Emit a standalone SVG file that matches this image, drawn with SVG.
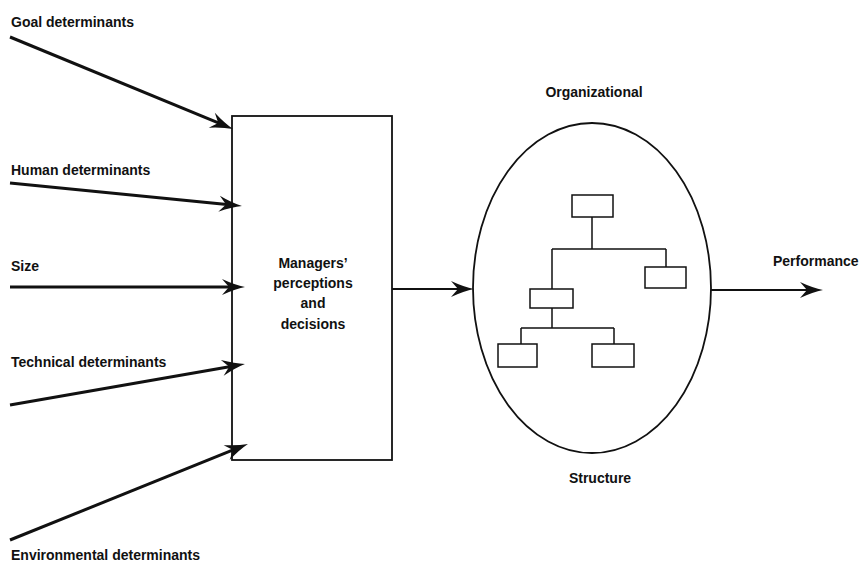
<svg xmlns="http://www.w3.org/2000/svg" width="864" height="565" viewBox="0 0 864 565">
  <style>
    .lbl { font-family: "Liberation Sans", Arial, sans-serif; font-weight: bold; font-size: 14px; fill: #111; }
    .mid { text-anchor: middle; }
    .in { stroke: #111; stroke-width: 3; fill: none; marker-end: url(#barb); }
    .out { stroke: #111; stroke-width: 2; fill: none; marker-end: url(#barb); }
    .frame { stroke: #111; stroke-width: 1.8; fill: #fff; }
    .org { stroke: #111; stroke-width: 1.5; fill: #fff; }
    .tie { stroke: #111; stroke-width: 1.5; fill: none; }
  </style>
  <defs>
    <!-- barbed arrowhead; its point sits 10px past the end of the line -->
    <marker id="barb" markerUnits="userSpaceOnUse" viewBox="-16 -9 28 18" refX="0" refY="0" markerWidth="28" markerHeight="18" orient="auto" overflow="visible">
      <path d="M10,0 Q0,-2 -13,-8 L-6,0 L-13,8 Q0,2 10,0 Z" fill="#111"/>
    </marker>
  </defs>

  <rect width="864" height="565" fill="#fff"/>

  <!-- determinant labels -->
  <g id="goal"><text class="lbl" x="11" y="27">Goal determinants</text></g>
  <g id="human"><text class="lbl" x="11" y="175">Human determinants</text></g>
  <g id="size"><text class="lbl" x="11" y="271">Size</text></g>
  <g id="technical"><text class="lbl" x="11" y="367">Technical determinants</text></g>
  <g id="environmental"><text class="lbl" x="11" y="560">Environmental determinants</text></g>

  <!-- managers box -->
  <g id="managers">
    <rect class="frame" x="232" y="116" width="160" height="344"/>
    <text class="lbl mid" x="313" y="268">Managers’</text>
    <text class="lbl mid" x="313" y="288">perceptions</text>
    <text class="lbl mid" x="313" y="308">and</text>
    <text class="lbl mid" x="313" y="329">decisions</text>
  </g>

  <!-- organizational structure -->
  <g id="structure">
    <text class="lbl mid" x="594" y="97">Organizational</text>
    <ellipse class="frame" cx="592" cy="288" rx="119" ry="165"/>
    <path class="tie" d="M592,217 V249 M552,249 H666 M552,249 V289 M666,249 V267 M552,308 V328 M521,328 H614 M521,328 V344 M614,328 V344"/>
    <rect class="org" x="572" y="195" width="41" height="22"/>
    <rect class="org" x="645" y="267" width="41" height="21"/>
    <rect class="org" x="530" y="289" width="43" height="19"/>
    <rect class="org" x="498" y="344" width="39" height="23"/>
    <rect class="org" x="592" y="344" width="42" height="23"/>
    <text class="lbl mid" x="600" y="483">Structure</text>
  </g>

  <g id="performance"><text class="lbl" x="773" y="266">Performance</text></g>

  <!-- connectors -->
  <g id="connectors">
    <line class="in" x1="10" y1="37" x2="223.8" y2="125.2"/>
    <line class="in" x1="10" y1="183" x2="232" y2="205"/>
    <line class="in" x1="10" y1="287" x2="235" y2="287"/>
    <line class="in" x1="10" y1="405" x2="235.1" y2="365.7"/>
    <line class="in" x1="10" y1="540" x2="238.7" y2="447.7"/>
    <line class="out" x1="392" y1="289" x2="464" y2="289"/>
    <line class="out" x1="711" y1="290" x2="813" y2="290"/>
  </g>
</svg>
